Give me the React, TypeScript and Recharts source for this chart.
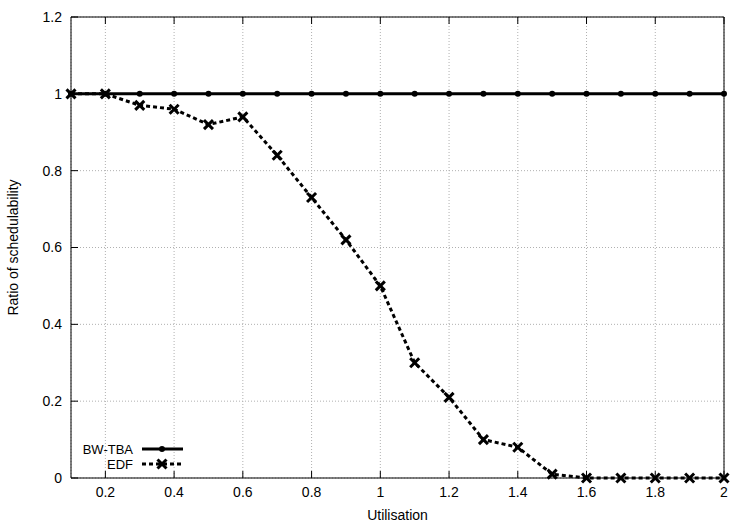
import { LineChart, Line, XAxis, YAxis, CartesianGrid, Legend } from "recharts";

const utilisation = [0.1, 0.2, 0.3, 0.4, 0.5, 0.6, 0.7, 0.8, 0.9, 1.0, 1.1, 1.2, 1.3, 1.4, 1.5, 1.6, 1.7, 1.8, 1.9, 2.0];
const bwTba = [1, 1, 1, 1, 1, 1, 1, 1, 1, 1, 1, 1, 1, 1, 1, 1, 1, 1, 1, 1];
const edf = [1, 1, 0.97, 0.96, 0.92, 0.94, 0.84, 0.73, 0.62, 0.5, 0.3, 0.21, 0.1, 0.08, 0.01, 0, 0, 0, 0, 0];

const xTicks = [0.2, 0.4, 0.6, 0.8, 1, 1.2, 1.4, 1.6, 1.8, 2];
const yTicks = [0, 0.2, 0.4, 0.6, 0.8, 1, 1.2];

const data = utilisation.map((u, i) => ({ u, bw: bwTba[i], edf: edf[i] }));

const FONT = "'Liberation Sans', Arial, sans-serif";
const TICK = 7;

const fmt = (v: number) => String(Math.round(v * 10) / 10);

function LeftTick(props: any) {
  const { x, y, payload } = props;
  return (
    <g>
      <line x1={x + 9} x2={x + 9 + TICK} y1={y} y2={y} stroke="#000" strokeWidth={1} />
      <text x={x} y={y} dy="0.355em" textAnchor="end" fontSize={14} fontFamily={FONT} fill="#000">
        {fmt(payload.value)}
      </text>
    </g>
  );
}

function BottomTick(props: any) {
  const { x, y, payload } = props;
  return (
    <g>
      <line x1={x} x2={x} y1={y - 9} y2={y - 9 - TICK} stroke="#000" strokeWidth={1} />
      <text x={x} y={y} dy="0.71em" textAnchor="middle" fontSize={14} fontFamily={FONT} fill="#000">
        {fmt(payload.value)}
      </text>
    </g>
  );
}

function RightTick(props: any) {
  const { x, y } = props;
  return <line x1={x} x2={x - TICK} y1={y} y2={y} stroke="#000" strokeWidth={1} />;
}

function TopTick(props: any) {
  const { x, y } = props;
  return <line x1={x} x2={x} y1={y} y2={y + TICK} stroke="#000" strokeWidth={1} />;
}

function CircleDot(props: any) {
  const { cx, cy } = props;
  if (cx == null || cy == null) return null;
  return <circle cx={cx} cy={cy} r={3} fill="#000" />;
}

function CrossDot(props: any) {
  const { cx, cy } = props;
  if (cx == null || cy == null) return null;
  const s = 4.5;
  return (
    <g stroke="#000" strokeWidth={3}>
      <line x1={cx - s} y1={cy - s} x2={cx + s} y2={cy + s} />
      <line x1={cx - s} y1={cy + s} x2={cx + s} y2={cy - s} />
    </g>
  );
}

function KeyBox(props: any) {
  const items = props.payload || [];
  return (
    <svg width={140} height={34}>
      {items.map((it: any, i: number) => {
        const y = 9 + i * 15;
        const dashed = it.dataKey === "edf";
        return (
          <g key={it.value}>
            <text x={73} y={y} dy="0.355em" textAnchor="end" fontSize={13} fontFamily={FONT} fill="#000">
              {it.value}
            </text>
            <line x1={82} x2={123} y1={y} y2={y} stroke="#000" strokeWidth={3} strokeDasharray={dashed ? "4 3" : undefined} />
            {dashed ? <CrossDot cx={102} cy={y} /> : <CircleDot cx={102} cy={y} />}
          </g>
        );
      })}
    </svg>
  );
}

export default function App() {
  return (
    <div style={{ position: "absolute", left: 0, top: 0, background: "#fff" }}>
      <LineChart width={750} height={525} data={data} margin={{ top: 0, right: 0, bottom: 0, left: 0 }}>
        <CartesianGrid stroke="#b0b0b0" strokeDasharray="1 2" />
        <XAxis
          dataKey="u"
          type="number"
          domain={[0.1, 2]}
          ticks={xTicks}
          height={47}
          tickSize={0}
          tickMargin={9}
          tick={<BottomTick />}
          axisLine={{ stroke: "#000" }}
          label={{ value: "Utilisation", position: "insideBottom", offset: 5, fontSize: 14, fontFamily: FONT, fill: "#000" }}
        />
        <XAxis
          xAxisId="top"
          dataKey="u"
          type="number"
          orientation="top"
          domain={[0.1, 2]}
          ticks={xTicks}
          height={17}
          tickSize={0}
          tickMargin={0}
          tick={<TopTick />}
          axisLine={{ stroke: "#000" }}
        />
        <YAxis
          type="number"
          domain={[0, 1.2]}
          ticks={yTicks}
          width={71}
          tickSize={0}
          tickMargin={9}
          tick={<LeftTick />}
          axisLine={{ stroke: "#000" }}
          label={{ value: "Ratio of schedulability", angle: -90, position: "insideLeft", offset: 13, fontSize: 14, fontFamily: FONT, fill: "#000", style: { textAnchor: "middle" } }}
        />
        <YAxis
          yAxisId="right"
          type="number"
          orientation="right"
          domain={[0, 1.2]}
          ticks={yTicks}
          width={26}
          tickSize={0}
          tickMargin={0}
          tick={<RightTick />}
          axisLine={{ stroke: "#000" }}
        />
        <Line
          dataKey="bw"
          name="BW-TBA"
          stroke="#000"
          strokeWidth={3}
          dot={<CircleDot />}
          activeDot={false}
          isAnimationActive={false}
        />
        <Line
          dataKey="edf"
          name="EDF"
          stroke="#000"
          strokeWidth={3}
          strokeDasharray="4 3"
          dot={<CrossDot />}
          activeDot={false}
          isAnimationActive={false}
        />
        <Legend
          layout="horizontal"
          verticalAlign="middle"
          align="center"
          wrapperStyle={{ left: 60, top: 440, width: 140 }}
          content={<KeyBox />}
        />
      </LineChart>
    </div>
  );
}
